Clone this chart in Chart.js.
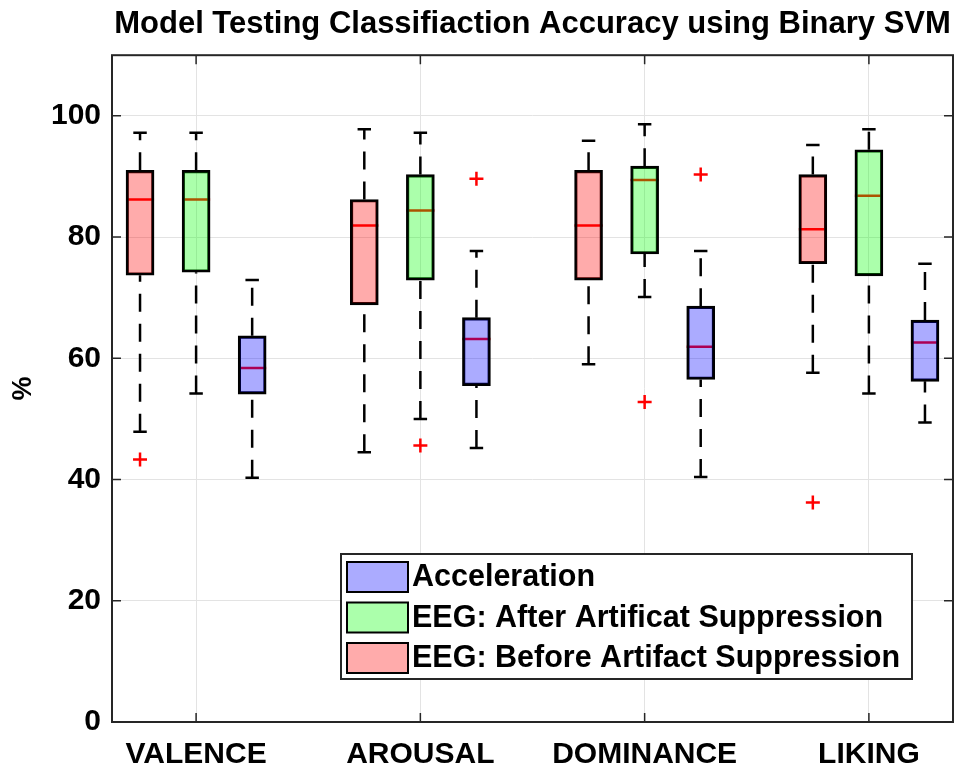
<!DOCTYPE html>
<html>
<head>
<meta charset="utf-8">
<script src="https://cdn.jsdelivr.net/npm/chart.js@4/dist/chart.umd.min.js"></script>
<style>
html,body{margin:0;padding:0;background:#fff;}
#wrap{width:954px;height:767px;}
</style>
</head>
<body>
<div id="wrap"><canvas id="c" width="954" height="767"></canvas></div>
<script>
// ---------------- DATA ----------------
const titleText = 'Model Testing Classifiaction Accuracy using Binary SVM';
const categories = ['VALENCE', 'AROUSAL', 'DOMINANCE', 'LIKING'];
const yTickValues = [0, 20, 40, 60, 80, 100];
const yAxisLabel = '%';

const beforeLabel = 'EEG: Before Artifact Suppression';
const beforeLow  = [47.9, 44.5, 59.0, 57.6];
const beforeQ1   = [73.7, 68.8, 72.9, 75.6];
const beforeMed  = [86.2, 81.9, 81.9, 81.3];
const beforeQ3   = [91.0, 86.2, 91.0, 90.3];
const beforeHigh = [97.2, 97.8, 95.9, 95.2];
const beforeOut  = [[43.3], [], [], [36.2]];

const afterLabel = 'EEG: After Artificat Suppression';
const afterLow  = [54.2, 50.0, 70.1, 54.2];
const afterQ1   = [74.2, 72.9, 77.2, 73.6];
const afterMed  = [86.2, 84.4, 89.4, 86.8];
const afterQ3   = [91.0, 90.3, 91.7, 94.4];
const afterHigh = [97.2, 97.2, 98.6, 97.8];
const afterOut  = [[], [45.6], [52.8], []];

const accLabel = 'Acceleration';
const accLow  = [40.3, 45.2, 40.4, 49.4];
const accQ1   = [54.1, 55.5, 56.5, 56.2];
const accMed  = [58.4, 63.2, 61.9, 62.6];
const accQ3   = [63.7, 66.7, 68.6, 66.3];
const accHigh = [72.9, 77.7, 77.7, 75.6];
const accOut  = [[], [89.6], [90.3], []];

// ---------------- STYLE / LAYOUT ----------------
const FONT = "'Liberation Sans', Arial, Helvetica, sans-serif";
const TEXT = '#000000';
const AXIS = '#262626';
const GRID = '#e3e3e3';
const GROUP_STEP = 4;     // position units per category group
const BOX_HALF = 0.25;    // half box width in position units (for medians)
const CAP_HALF = 0.12;    // half cap width in position units
const LW = 2.5;

const series = [
  {label: beforeLabel, low: beforeLow, q1: beforeQ1, med: beforeMed, q3: beforeQ3, high: beforeHigh, out: beforeOut,
   fill: 'rgba(255,0,0,0.33)', slot: 1},
  {label: afterLabel, low: afterLow, q1: afterQ1, med: afterMed, q3: afterQ3, high: afterHigh, out: afterOut,
   fill: 'rgba(0,255,0,0.33)', slot: 2},
  {label: accLabel, low: accLow, q1: accQ1, med: accMed, q3: accQ3, high: accHigh, out: accOut,
   fill: 'rgba(0,0,255,0.33)', slot: 3}
];
const posOf = (s, i) => GROUP_STEP * i + s.slot;

const datasets = [];
series.forEach(s => {
  // boxes (floating bars q1..q3)
  datasets.push({
    type: 'bar', label: s.label, isBox: true,
    data: categories.map((c, i) => ({x: posOf(s, i), y: [s.q1[i], s.q3[i]]})),
    backgroundColor: s.fill, borderColor: '#000', borderWidth: LW, borderSkipped: false,
    barThickness: 28, grouped: false, order: 1
  });
  // medians (drawn beneath the translucent box)
  const med = [];
  categories.forEach((c, i) => {
    const p = posOf(s, i);
    med.push({x: p - BOX_HALF, y: s.med[i]}, {x: p + BOX_HALF, y: s.med[i]}, {x: p, y: null});
  });
  datasets.push({
    type: 'line', label: s.label + ' median', data: med, borderColor: '#ff0000', borderWidth: 2.5,
    pointRadius: 0, spanGaps: false, fill: false, order: 5
  });
  // dashed whiskers
  const wh = [];
  categories.forEach((c, i) => {
    const p = posOf(s, i);
    wh.push({x: p, y: s.low[i]}, {x: p, y: s.q1[i]}, {x: p, y: null});
    wh.push({x: p, y: s.q3[i]}, {x: p, y: s.high[i]}, {x: p, y: null});
  });
  datasets.push({
    type: 'line', label: s.label + ' whisker', data: wh, borderColor: '#000', borderWidth: LW,
    borderDash: [18, 12], pointRadius: 0, spanGaps: false, fill: false, order: 2
  });
  // caps
  const cap = [];
  categories.forEach((c, i) => {
    const p = posOf(s, i);
    [s.low[i], s.high[i]].forEach(v => {
      cap.push({x: p - CAP_HALF, y: v}, {x: p + CAP_HALF, y: v}, {x: p, y: null});
    });
  });
  datasets.push({
    type: 'line', label: s.label + ' cap', data: cap, borderColor: '#000', borderWidth: LW,
    pointRadius: 0, spanGaps: false, fill: false, order: 2
  });
  // outliers
  const out = [];
  categories.forEach((c, i) => s.out[i].forEach(v => out.push({x: posOf(s, i), y: v})));
  datasets.push({
    type: 'scatter', label: s.label + ' outliers', data: out, pointStyle: 'cross',
    pointRadius: 7, borderColor: '#ff0000', borderWidth: 2.5, showLine: false, order: 0
  });
});

// frame + inward ticks
const framePlugin = {
  id: 'frame',
  afterDatasetsDraw(chart) {
    const {ctx, chartArea: a, scales: {x, y}} = chart;
    ctx.save();
    ctx.strokeStyle = AXIS;
    ctx.lineWidth = 2;
    ctx.strokeRect(a.left, a.top, a.right - a.left, a.bottom - a.top);
    ctx.lineWidth = 1.5;
    ctx.beginPath();
    const L = 9;
    y.ticks.forEach(t => {
      const py = y.getPixelForValue(t.value);
      ctx.moveTo(a.left, py); ctx.lineTo(a.left + L, py);
      ctx.moveTo(a.right, py); ctx.lineTo(a.right - L, py);
    });
    x.ticks.forEach(t => {
      const px = x.getPixelForValue(t.value);
      ctx.moveTo(px, a.bottom); ctx.lineTo(px, a.bottom - L);
      ctx.moveTo(px, a.top); ctx.lineTo(px, a.top + L);
    });
    ctx.stroke();
    ctx.restore();
  }
};

// legend drawn inside the axes (MATLAB style)
const legendPlugin = {
  id: 'boxLegend',
  afterDraw(chart) {
    const {ctx, chartArea: a} = chart;
    const items = chart.data.datasets.filter(d => d.isBox).slice().reverse();
    const W = 571, H = 125;
    const left = a.right - 41 - W, top = a.bottom - 43 - H;
    ctx.save();
    ctx.fillStyle = '#fff';
    ctx.fillRect(left, top, W, H);
    ctx.strokeStyle = AXIS;
    ctx.lineWidth = 2;
    ctx.strokeRect(left, top, W, H);
    ctx.font = 'bold 30.5px ' + FONT;
    ctx.textBaseline = 'middle';
    ctx.textAlign = 'left';
    items.forEach((d, k) => {
      const sy = top + 8 + k * 40.5;
      ctx.fillStyle = '#fff';
      ctx.fillRect(left + 6, sy, 61, 30);
      ctx.fillStyle = d.backgroundColor;
      ctx.fillRect(left + 6, sy, 61, 30);
      ctx.strokeStyle = '#000';
      ctx.lineWidth = 2;
      ctx.strokeRect(left + 6, sy, 61, 30);
      ctx.fillStyle = TEXT;
      ctx.fillText(d.label, left + 71, sy + 16);
    });
    ctx.restore();
  }
};

Chart.defaults.font.family = FONT;
Chart.defaults.color = TEXT;

new Chart(document.getElementById('c'), {
  type: 'bar',
  data: {datasets},
  plugins: [framePlugin, legendPlugin],
  options: {
    responsive: false,
    animation: false,
    devicePixelRatio: 1,
    layout: {autoPadding: false, padding: {left: 0, right: 1, top: 0, bottom: 0}},
    plugins: {
      legend: {display: false},
      tooltip: {enabled: false},
      title: {
        display: true, text: titleText, fullSize: false, color: TEXT,
        font: {size: 31, weight: 'bold', family: FONT},
        padding: {top: 6, bottom: 12}
      }
    },
    scales: {
      x: {
        type: 'linear', min: 0.5, max: 15.5, offset: false,
        afterBuildTicks: sc => { sc.ticks = categories.map((c, i) => ({value: GROUP_STEP * i + 2})); },
        afterFit: sc => { sc.height = 45; sc.paddingLeft = 0; sc.paddingRight = 0; },
        ticks: {
          autoSkip: false, maxRotation: 0, padding: 15, color: TEXT,
          font: {size: 30, weight: 'bold', family: FONT},
          callback: (v, i) => categories[i]
        },
        grid: {color: GRID, lineWidth: 1, drawTicks: false, offset: false},
        border: {display: false}
      },
      y: {
        type: 'linear', min: 0, max: 110,
        afterBuildTicks: sc => { sc.ticks = yTickValues.map(v => ({value: v})); },
        afterFit: sc => { sc.width = 112; sc.paddingTop = 0; sc.paddingBottom = 0; },
        ticks: {
          padding: 11, color: TEXT, includeBounds: false,
          font: {size: 30, weight: 'bold', family: FONT}
        },
        grid: {color: GRID, lineWidth: 1, drawTicks: false},
        border: {display: false},
        title: {display: true, text: yAxisLabel, color: TEXT, font: {size: 27, weight: 'bold', family: FONT}, padding: {top: 7, bottom: 0}}
      }
    }
  }
});
</script>
</body>
</html>
